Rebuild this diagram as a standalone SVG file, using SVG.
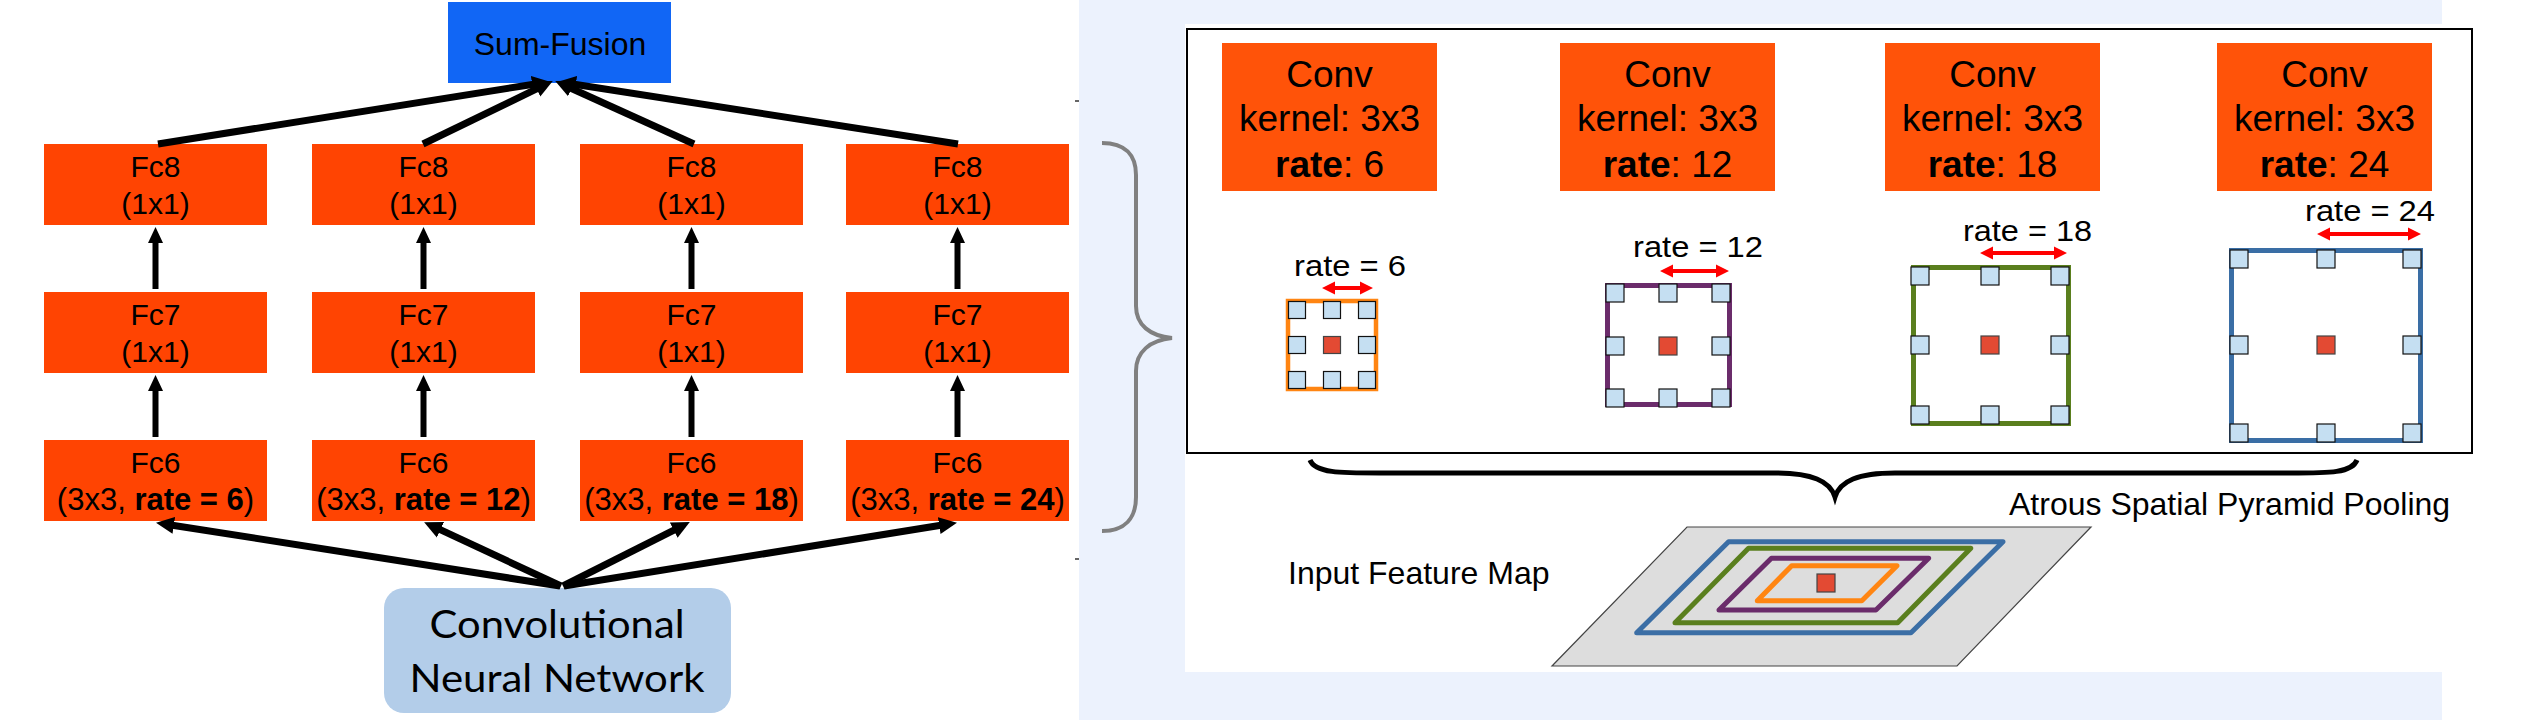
<svg xmlns="http://www.w3.org/2000/svg" width="2528" height="720" viewBox="0 0 2528 720">
<style>
text{font-family:"Liberation Sans",Arial,sans-serif;fill:#000}
.fc{fill:#FF4402}
.fct{font-size:30px;text-anchor:middle}
.fct2{font-size:31px;text-anchor:middle}
.conv{fill:#FF5309}
.cvt{font-size:37px;text-anchor:middle}
.rl{font-size:29px;text-anchor:middle}
.b{font-weight:bold}
.sq{fill:#C5DFF2;stroke:#111;stroke-width:1.2}
.ctr{fill:#E34A33;stroke:#444;stroke-width:1.2}
.conn{stroke:#000;fill:none}
.dbl{fill:#FF0000}
.pg{fill:none;stroke-width:5;stroke-linejoin:round}
</style>
<defs>
<marker id="ah" viewBox="0 0 16 16" markerWidth="16" markerHeight="16" refX="8" refY="8" orient="auto" markerUnits="userSpaceOnUse">
<path d="M0,0.5 L16,8 L0,15.5 z" fill="#000"/>
</marker>
<marker id="ah2" viewBox="0 0 18 18" markerWidth="18" markerHeight="18" refX="8" refY="9" orient="auto" markerUnits="userSpaceOnUse">
<path d="M0,0.5 L18,9 L0,17.5 z" fill="#000"/>
</marker>
</defs>
<rect x="0" y="0" width="2528" height="720" fill="#FFFFFF"/>
<!-- right panel background -->
<rect x="1079" y="0" width="1363" height="720" fill="#ECF2FD"/>
<rect x="1185" y="24" width="1257" height="648" fill="#FFFFFF"/>
<rect x="1075" y="100" width="4" height="2" fill="#666"/>
<rect x="1075" y="558" width="4" height="2" fill="#666"/>

<!-- Left panel nodes -->
<g id="sum-fusion">
<rect x="448" y="2" width="223" height="81" fill="#1166F5"/>
<text x="560" y="55" style="font-size:32px;text-anchor:middle">Sum-Fusion</text>
</g>
<g id="fc8-1"><rect class="fc" x="44" y="144" width="223" height="81"/><text class="fct" x="155.5" y="177">Fc8</text><text class="fct" x="155.5" y="214">(1x1)</text></g>
<g id="fc8-2"><rect class="fc" x="312" y="144" width="223" height="81"/><text class="fct" x="423.5" y="177">Fc8</text><text class="fct" x="423.5" y="214">(1x1)</text></g>
<g id="fc8-3"><rect class="fc" x="580" y="144" width="223" height="81"/><text class="fct" x="691.5" y="177">Fc8</text><text class="fct" x="691.5" y="214">(1x1)</text></g>
<g id="fc8-4"><rect class="fc" x="846" y="144" width="223" height="81"/><text class="fct" x="957.5" y="177">Fc8</text><text class="fct" x="957.5" y="214">(1x1)</text></g>

<g id="fc7-1"><rect class="fc" x="44" y="292" width="223" height="81"/><text class="fct" x="155.5" y="325">Fc7</text><text class="fct" x="155.5" y="362">(1x1)</text></g>
<g id="fc7-2"><rect class="fc" x="312" y="292" width="223" height="81"/><text class="fct" x="423.5" y="325">Fc7</text><text class="fct" x="423.5" y="362">(1x1)</text></g>
<g id="fc7-3"><rect class="fc" x="580" y="292" width="223" height="81"/><text class="fct" x="691.5" y="325">Fc7</text><text class="fct" x="691.5" y="362">(1x1)</text></g>
<g id="fc7-4"><rect class="fc" x="846" y="292" width="223" height="81"/><text class="fct" x="957.5" y="325">Fc7</text><text class="fct" x="957.5" y="362">(1x1)</text></g>

<g id="fc6-1"><rect class="fc" x="44" y="440" width="223" height="81"/><text class="fct" x="155.5" y="473">Fc6</text><text class="fct2" x="155.5" y="510">(3x3, <tspan class="b">rate = 6</tspan>)</text></g>
<g id="fc6-2"><rect class="fc" x="312" y="440" width="223" height="81"/><text class="fct" x="423.5" y="473">Fc6</text><text class="fct2" x="423.5" y="510">(3x3, <tspan class="b">rate = 12</tspan>)</text></g>
<g id="fc6-3"><rect class="fc" x="580" y="440" width="223" height="81"/><text class="fct" x="691.5" y="473">Fc6</text><text class="fct2" x="691.5" y="510">(3x3, <tspan class="b">rate = 18</tspan>)</text></g>
<g id="fc6-4"><rect class="fc" x="846" y="440" width="223" height="81"/><text class="fct" x="957.5" y="473">Fc6</text><text class="fct2" x="957.5" y="510">(3x3, <tspan class="b">rate = 24</tspan>)</text></g>

<g id="cnn">
<rect x="384" y="588" width="347" height="125" rx="20" fill="#B3CDE9"/>
<text x="557" y="638" textLength="255" lengthAdjust="spacingAndGlyphs" style="font-family:Lato,'Open Sans',sans-serif;font-size:39px;text-anchor:middle">Convolutional</text>
<text x="557" y="692" textLength="295" lengthAdjust="spacingAndGlyphs" style="font-family:Lato,'Open Sans',sans-serif;font-size:39px;text-anchor:middle">Neural Network</text>
</g>

<!-- Connectors -->
<g id="connectors">
<g class="conn" stroke-width="7" marker-end="url(#ah2)">
<line x1="158" y1="144" x2="540.1" y2="83.2"/>
<line x1="423" y1="144" x2="543.8" y2="85.4"/>
<line x1="694" y1="144" x2="564.3" y2="85.2"/>
<line x1="958" y1="144" x2="567.9" y2="83.2"/>
</g>
<g class="conn" stroke-width="6" marker-end="url(#ah)">
<line x1="155.5" y1="289" x2="155.5" y2="235"/>
<line x1="423.5" y1="289" x2="423.5" y2="235"/>
<line x1="691.5" y1="289" x2="691.5" y2="235"/>
<line x1="957.5" y1="289" x2="957.5" y2="235"/>
<line x1="155.5" y1="437" x2="155.5" y2="383"/>
<line x1="423.5" y1="437" x2="423.5" y2="383"/>
<line x1="691.5" y1="437" x2="691.5" y2="383"/>
<line x1="957.5" y1="437" x2="957.5" y2="383"/>
</g>
<g class="conn" stroke-width="7" marker-end="url(#ah2)">
<line x1="560" y1="586" x2="165.9" y2="524.2"/>
<line x1="561" y1="586" x2="433.2" y2="526.4"/>
<line x1="563" y1="586" x2="680.9" y2="526.6"/>
<line x1="564" y1="586" x2="947.1" y2="524.3"/>
</g>
</g>

<!-- Right panel -->
<g id="left-brace">
<path d="M1102,143 C1125,143 1136,155 1136,175 L1136,306 C1136,325 1150,336 1172,338 C1150,340 1136,352 1136,371 L1136,497 C1136,518 1125,531 1102,531" fill="none" stroke="#808080" stroke-width="4"/>
</g>

<g id="aspp-box">
<rect x="1187" y="29" width="1285" height="424" fill="none" stroke="#000" stroke-width="2"/>
</g>

<g id="conv-6"><rect class="conv" x="1222" y="43" width="215" height="148"/><text class="cvt" x="1329.5" y="87">Conv</text><text class="cvt" x="1329.5" y="131">kernel: 3x3</text><text class="cvt" x="1329.5" y="177"><tspan class="b">rate</tspan>: 6</text></g>
<g id="conv-12"><rect class="conv" x="1560" y="43" width="215" height="148"/><text class="cvt" x="1667.5" y="87">Conv</text><text class="cvt" x="1667.5" y="131">kernel: 3x3</text><text class="cvt" x="1667.5" y="177"><tspan class="b">rate</tspan>: 12</text></g>
<g id="conv-18"><rect class="conv" x="1885" y="43" width="215" height="148"/><text class="cvt" x="1992.5" y="87">Conv</text><text class="cvt" x="1992.5" y="131">kernel: 3x3</text><text class="cvt" x="1992.5" y="177"><tspan class="b">rate</tspan>: 18</text></g>
<g id="conv-24"><rect class="conv" x="2217" y="43" width="215" height="148"/><text class="cvt" x="2324.5" y="87">Conv</text><text class="cvt" x="2324.5" y="131">kernel: 3x3</text><text class="cvt" x="2324.5" y="177"><tspan class="b">rate</tspan>: 24</text></g>

<g id="kernel-6">
<text class="rl" x="1350" y="276" textLength="112" lengthAdjust="spacingAndGlyphs">rate = 6</text>
<polygon class="dbl" points="1322,288 1335,281.5 1335,286 1360,286 1360,281.5 1373,288 1360,294.5 1360,290 1335,290 1335,294.5"/>
<rect x="1288" y="301" width="88" height="88" fill="none" stroke="#FF8512" stroke-width="4.5"/>
<rect class="sq" x="1288.5" y="301.5" width="17" height="17"/><rect class="sq" x="1323.5" y="301.5" width="17" height="17"/><rect class="sq" x="1358.5" y="301.5" width="17" height="17"/>
<rect class="sq" x="1288.5" y="336.5" width="17" height="17"/><rect class="ctr" x="1323.5" y="336.5" width="17" height="17"/><rect class="sq" x="1358.5" y="336.5" width="17" height="17"/>
<rect class="sq" x="1288.5" y="371.5" width="17" height="17"/><rect class="sq" x="1323.5" y="371.5" width="17" height="17"/><rect class="sq" x="1358.5" y="371.5" width="17" height="17"/>
</g>

<g id="kernel-12">
<text class="rl" x="1698" y="257" textLength="130" lengthAdjust="spacingAndGlyphs">rate = 12</text>
<polygon class="dbl" points="1660,271 1673,264.5 1673,269 1716,269 1716,264.5 1729,271 1716,277.5 1716,273 1673,273 1673,277.5"/>
<rect x="1607.5" y="285.5" width="122" height="119" fill="none" stroke="#6B2C6B" stroke-width="5"/>
<rect class="sq" x="1606" y="284" width="18" height="18"/><rect class="sq" x="1659" y="284" width="18" height="18"/><rect class="sq" x="1712" y="284" width="18" height="18"/>
<rect class="sq" x="1606" y="337" width="18" height="18"/><rect class="ctr" x="1659" y="337" width="18" height="18"/><rect class="sq" x="1712" y="337" width="18" height="18"/>
<rect class="sq" x="1606" y="389" width="18" height="18"/><rect class="sq" x="1659" y="389" width="18" height="18"/><rect class="sq" x="1712" y="389" width="18" height="18"/>
</g>

<g id="kernel-18">
<text class="rl" x="2027.5" y="241" textLength="129" lengthAdjust="spacingAndGlyphs">rate = 18</text>
<polygon class="dbl" points="1980,253 1993,246.5 1993,251 2054,251 2054,246.5 2067,253 2054,259.5 2054,255 1993,255 1993,259.5"/>
<rect x="1913.5" y="267.5" width="155" height="156" fill="none" stroke="#5A7F1E" stroke-width="5"/>
<rect class="sq" x="1911" y="267" width="18" height="18"/><rect class="sq" x="1981" y="267" width="18" height="18"/><rect class="sq" x="2051" y="267" width="18" height="18"/>
<rect class="sq" x="1911" y="336" width="18" height="18"/><rect class="ctr" x="1981" y="336" width="18" height="18"/><rect class="sq" x="2051" y="336" width="18" height="18"/>
<rect class="sq" x="1911" y="406" width="18" height="18"/><rect class="sq" x="1981" y="406" width="18" height="18"/><rect class="sq" x="2051" y="406" width="18" height="18"/>
</g>

<g id="kernel-24">
<text class="rl" x="2370" y="221" textLength="130" lengthAdjust="spacingAndGlyphs">rate = 24</text>
<polygon class="dbl" points="2317,234 2330,227.5 2330,232 2408,232 2408,227.5 2421,234 2408,240.5 2408,236 2330,236 2330,240.5"/>
<rect x="2231.5" y="250.5" width="189" height="190" fill="none" stroke="#3A6EA5" stroke-width="5"/>
<rect class="sq" x="2230" y="250" width="18" height="18"/><rect class="sq" x="2317" y="250" width="18" height="18"/><rect class="sq" x="2403" y="250" width="18" height="18"/>
<rect class="sq" x="2230" y="336" width="18" height="18"/><rect class="ctr" x="2317" y="336" width="18" height="18"/><rect class="sq" x="2403" y="336" width="18" height="18"/>
<rect class="sq" x="2230" y="424" width="18" height="18"/><rect class="sq" x="2317" y="424" width="18" height="18"/><rect class="sq" x="2403" y="424" width="18" height="18"/>
</g>

<g id="aspp-brace">
<path d="M1310,460 C1315,473 1340,473 1380,473 L1775,473 C1812,473 1830,481 1835,497 C1840,481 1858,473 1895,473 L2290,473 C2330,473 2352,473 2357,460" fill="none" stroke="#000" stroke-width="5"/>
<text x="2009" y="515" style="font-size:32px">Atrous Spatial Pyramid Pooling</text>
</g>

<g id="input-feature-map">
<text x="1288" y="584" style="font-size:32px">Input Feature Map</text>
<polygon points="1687,527 2091,527 1957,666 1552,666" fill="#DDDDDD" stroke="#444" stroke-width="1.2"/>
<polygon class="pg" stroke="#3B6EA5" points="1728.6,541.7 2003,541.7 1911,632.7 1636.7,632.7"/>
<polygon class="pg" stroke="#5A7F1E" points="1748.5,548.3 1970.8,548.3 1897.7,622.7 1675,622.7"/>
<polygon class="pg" stroke="#6B2C6B" points="1771.4,558.3 1928.7,558.3 1875.9,610 1719,610"/>
<polygon class="pg" stroke="#FF8512" points="1791.7,565.7 1897,565.7 1861.8,600.7 1757.3,600.7"/>
<rect class="ctr" x="1817" y="574" width="18" height="18"/>
</g>
</svg>
